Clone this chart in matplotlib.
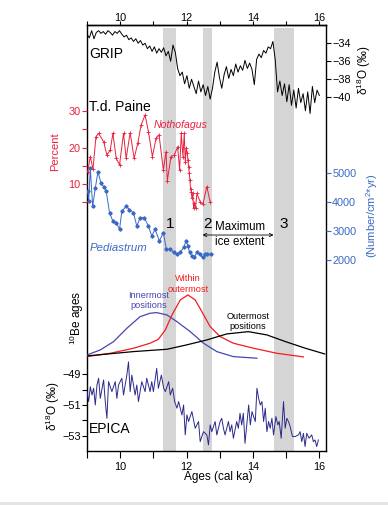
import numpy as np
import matplotlib
matplotlib.use("Agg")
import matplotlib.pyplot as plt
from matplotlib import transforms
from matplotlib.patches import Rectangle

plt.rcParams['font.family'] = 'Liberation Sans'
plt.rcParams['mathtext.fontset'] = 'custom'
plt.rcParams['mathtext.rm'] = 'Liberation Sans'
plt.rcParams['axes.unicode_minus'] = True

# ---- data ----
grip_age = [9.00, 9.07, 9.14, 9.21, 9.28, 9.35, 9.42, 9.49, 9.56, 9.63, 9.70, 9.77, 9.84, 9.91, 9.98,
            10.05, 10.12, 10.19, 10.26, 10.33, 10.40, 10.47, 10.54, 10.61, 10.68, 10.75, 10.82, 10.89,
            10.96, 11.03, 11.10, 11.17, 11.24, 11.31, 11.38, 11.45, 11.52, 11.59, 11.66,
            11.73, 11.80, 11.87, 11.94, 12.01, 12.08, 12.15, 12.22, 12.29, 12.36, 12.43, 12.50, 12.57,
            12.64, 12.71, 12.78,
            12.85, 12.92, 12.99, 13.06, 13.13, 13.20, 13.27, 13.34, 13.41, 13.48, 13.55,
            13.62, 13.69, 13.76, 13.83, 13.90, 13.97, 14.04, 14.11, 14.18, 14.25, 14.32, 14.39, 14.46,
            14.53, 14.60,
            14.67, 14.74, 14.81, 14.88, 14.95, 15.02, 15.09, 15.16, 15.23, 15.30, 15.37, 15.44, 15.51,
            15.58, 15.65, 15.72, 15.79, 15.86, 15.93, 16.00]
grip_d18o = [-33.0, -33.4, -32.6, -33.5, -32.8, -32.6, -32.9, -32.7, -33.0, -32.6, -32.8, -33.1, -32.7, -32.9, -32.6,
             -33.0, -33.3, -33.1, -33.6, -33.4, -33.8, -33.5, -34.0, -33.7, -34.2, -34.0, -34.6, -34.3,
             -34.9, -34.4, -35.1, -34.6, -35.0, -34.5, -35.4, -34.9, -36.0, -34.2, -35.0,
             -36.8, -37.6, -37.2, -38.5, -37.6, -39.0, -38.0, -38.8, -39.6, -38.2, -39.4, -38.6, -39.8,
             -38.8, -40.2, -39.0,
             -37.2, -36.1, -37.8, -39.0, -37.5, -36.6, -37.9, -36.9, -37.6, -36.3, -37.2,
             -36.5, -37.0, -35.9, -36.8, -36.2, -36.9, -38.6, -35.8, -35.2, -35.6, -34.8, -35.1, -34.4,
             -34.6, -33.8,
             -35.8, -39.4, -38.2, -39.8, -38.5, -40.5, -38.6, -40.9, -39.2, -41.2, -39.0, -40.6, -39.6,
             -41.5, -39.4, -41.8, -38.8, -40.6, -39.2, -39.8]

noth_age = [9.02, 9.10, 9.18, 9.27, 9.35, 9.50, 9.60, 9.70, 9.78, 9.88, 9.98, 10.10, 10.18, 10.30,
            10.42, 10.53, 10.63, 10.75, 10.85, 10.97, 11.08, 11.17, 11.30, 11.38, 11.42, 11.53, 11.63,
            11.73, 11.79, 11.84, 11.89, 11.93, 11.96, 11.99, 12.02, 12.04, 12.06, 12.08, 12.10, 12.12,
            12.14, 12.16, 12.19, 12.21, 12.23, 12.27, 12.31, 12.41, 12.49, 12.61, 12.71]
noth_pct = [13.3, 17.5, 14.0, 23.0, 23.9, 21.6, 17.9, 19.3, 23.9, 17.0, 15.2, 23.9, 17.0, 24.1,
            17.0, 21.2, 26.2, 29.0, 24.4, 17.5, 22.5, 23.5, 13.8, 18.8, 10.8, 17.5, 17.9,
            20.2, 13.8, 23.9, 17.5, 23.9, 16.1, 19.8, 18.4, 16.5, 14.7, 13.0, 11.0, 8.5,
            7.8, 6.0, 7.3, 3.2, 4.6, 3.4, 7.3, 5.0, 4.3, 9.2, 5.0]

ped_age = [9.02, 9.05, 9.10, 9.17, 9.25, 9.33, 9.42, 9.50, 9.58, 9.68, 9.78, 9.88, 9.98, 10.05,
           10.18, 10.28, 10.40, 10.50, 10.60, 10.73, 10.85, 10.95, 11.05, 11.18, 11.30, 11.39, 11.51,
           11.61, 11.71, 11.81, 11.91, 11.99, 12.04, 12.09, 12.16, 12.23, 12.31, 12.39, 12.48, 12.56,
           12.63, 12.73]
ped_flux = [4371, 4029, 5171, 3858, 4487, 5055, 4658, 4542, 4371, 3632, 3345, 3290, 3061, 3687,
            3858, 3745, 3632, 3173, 3461, 3461, 3173, 2831, 3061, 2660, 2948, 2376, 2376,
            2263, 2205, 2263, 2434, 2660, 2489, 2263, 2147, 2092, 2263, 2205, 2092, 2205,
            2205, 2205]

inner_age = [9.00, 9.40, 9.80, 10.20, 10.60, 10.90, 11.10, 11.41, 11.71, 12.11, 12.51, 12.91, 13.41, 14.12]
inner_p = [0.104, 0.179, 0.303, 0.502, 0.676, 0.727, 0.736, 0.701, 0.601, 0.452, 0.279, 0.154, 0.079, 0.055]
within_age = [9.00, 9.70, 10.40, 10.90, 11.15, 11.36, 11.56, 11.81, 12.04, 12.26, 12.46, 12.71, 13.01,
              13.41, 14.02, 14.72, 15.52]
within_p = [0.079, 0.129, 0.204, 0.279, 0.338, 0.478, 0.701, 0.925, 1.0, 0.925, 0.751, 0.527, 0.378,
            0.279, 0.204, 0.129, 0.075]
outer_age = [9.00, 10.40, 11.41, 12.00, 12.61, 13.21, 13.86, 14.42, 14.98, 15.58, 16.16]
outer_p = [0.090, 0.154, 0.189, 0.254, 0.328, 0.418, 0.452, 0.403, 0.303, 0.204, 0.119]

epica_age = [9.00, 9.05, 9.10, 9.15, 9.20, 9.25, 9.30, 9.35, 9.40, 9.50, 9.55, 9.60, 9.65, 9.75,
             9.85, 9.90, 9.95, 10.05, 10.10, 10.20, 10.25, 10.30, 10.35, 10.45, 10.50, 10.55, 10.65,
             10.75, 10.80, 10.90, 10.95, 11.00, 11.10, 11.15, 11.24, 11.31, 11.36, 11.46, 11.51,
             11.58, 11.64, 11.71, 11.76, 11.86, 11.91, 11.96, 12.01, 12.06, 12.16, 12.26, 12.36,
             12.41, 12.51, 12.61, 12.66, 12.71, 12.76, 12.86, 12.91, 13.01, 13.06, 13.11, 13.16,
             13.26, 13.31, 13.36, 13.41, 13.51, 13.56, 13.61, 13.66, 13.71, 13.76, 13.87, 13.92,
             13.97, 14.07, 14.12, 14.17, 14.22, 14.27, 14.32, 14.37, 14.42, 14.47, 14.52, 14.57,
             14.62, 14.69, 14.75, 14.79, 14.85, 14.92, 14.97, 15.02, 15.07, 15.12, 15.19, 15.27,
             15.37, 15.42, 15.47, 15.52, 15.57, 15.62, 15.69, 15.77, 15.82, 15.87, 15.92, 15.97]
epica_d18o = [-50.13, -50.78, -49.81, -50.35, -49.91, -51.00, -49.70, -49.26, -50.57, -49.37, -50.78,
              -51.87, -49.48, -50.13, -49.48, -50.57, -49.70, -49.26, -50.35, -49.05, -48.19, -50.13,
              -49.05, -50.35, -49.70, -50.78, -49.48, -50.13, -49.26, -50.13, -49.48, -50.13, -48.62,
              -49.91, -49.05, -49.91, -50.13, -49.48, -50.35, -49.91, -50.78, -51.21, -50.78, -51.65,
              -51.00, -52.95, -51.65, -52.08, -51.43, -52.52, -52.08, -53.39, -52.74, -52.95, -53.60,
              -52.30, -52.74, -52.08, -52.95, -52.08, -51.87, -52.52, -52.95, -52.08, -52.74, -52.30,
              -53.17, -52.08, -52.52, -51.54, -52.30, -51.54, -53.50, -51.00, -52.30, -51.43, -52.08,
              -49.91, -50.57, -51.00, -50.78, -52.08, -51.21, -52.74, -52.08, -52.52, -51.87, -52.95,
              -51.76, -52.30, -52.08, -53.17, -50.78, -52.52, -51.87, -52.08, -52.41, -53.06, -53.06,
              -52.95, -52.74, -53.39, -52.85, -53.71, -52.85, -53.17, -52.95, -53.39, -53.28, -53.71,
              -53.28]

band_start = [11.30, 12.48, 14.62]
band_end = [11.68, 12.77, 15.23]
band_labels = ['1', '2', '3']

C_NOTH = '#e8213f'
C_PED = '#3b68c4'
C_EPICA = '#2b2a8a'
C_INNER = '#4646b4'
C_WITHIN = '#f41c1c'

fig = plt.figure(figsize=(3.88, 5.05), dpi=100)
ax = fig.add_axes([87 / 388, 54 / 505, 239 / 388, 426 / 505])
ax.set_xlim(9.0, 16.2)
ax.set_ylim(0, 1)
ax.set_yticks([])
for s in ax.spines.values():
    s.set_linewidth(1.0)
ax.set_xticks([10, 12, 14, 16])
ax.set_xticks([9, 11, 13, 15], minor=True)
ax.tick_params(axis='x', which='both', direction='out', length=4.8, width=0.8,
               labelsize=7.8, pad=3.0)

# top axis: shorter ticks, labels close to the frame
top = ax.secondary_xaxis('top')
top.set_xticks([10, 12, 14, 16])
top.set_xticks([9, 11, 13, 15], minor=True)
top.tick_params(axis='x', which='both', direction='out', length=3.1, width=0.8,
                labelsize=7.8, pad=-1.5)
top.spines['top'].set_linewidth(1.0)

for a, b in zip(band_start, band_end):
    ax.axvspan(a, b, ymin=0, ymax=0.993, color='#d5d5d5', lw=0, zorder=0)


def twin(ylim, side):
    t = ax.twinx()
    t.set_ylim(*ylim)
    t.patch.set_visible(False)
    for s in t.spines.values():
        s.set_visible(False)
    if side == 'left':
        t.yaxis.tick_left()
    elif side == 'right':
        t.yaxis.tick_right()
    else:
        t.set_yticks([])
    t.tick_params(axis='y', which='both', direction='out', length=3.5, width=0.8,
                  labelsize=7.8, pad=1.0)
    return t


# GRIP
ax_grip = twin((-79.3, -31.97), 'right')
ax_grip.plot(grip_age, grip_d18o, color='black', lw=0.7)
ax_grip.set_yticks([-34, -36, -38, -40])

# Nothofagus
ax_noth = twin((-63.84, 53.84), 'left')
ax_noth.plot(noth_age, noth_pct, color=C_NOTH, lw=0.7, marker='+', ms=2.6, mew=0.6)
ax_noth.set_yticks([10, 20, 30])
ax_noth.set_yticks([5, 15, 25], minor=True)
ax_noth.tick_params(axis='y', which='both', colors=C_NOTH)

# Pediastrum
ax_ped = twin((-4609, 10131), 'right')
ax_ped.plot(ped_age, ped_flux, color=C_PED, lw=0.7, marker='D', ms=1.7)
ax_ped.set_yticks([2000, 3000, 4000, 5000])
ax_ped.tick_params(axis='y', colors=C_PED)

# 10Be
ax_be = twin((-1.33, 5.03), None)
ax_be.plot(inner_age, inner_p, color=C_INNER, lw=0.9)
ax_be.plot(within_age, within_p, color=C_WITHIN, lw=0.9)
ax_be.plot(outer_age, outer_p, color='black', lw=0.9)

# EPICA
ax_ep = twin((-54.0, -26.24), 'left')
ax_ep.plot(epica_age, epica_d18o, color=C_EPICA, lw=0.7)
ax_ep.set_yticks([-49, -51, -53])
ax_ep.set_yticks([-50, -52], minor=True)

# ---- labels ----
tr = transforms.blended_transform_factory(ax.transData, ax.transAxes)
ax.text(9.06, 0.933, 'GRIP', transform=tr, fontsize=10, va='center', ha='left')
ax.text(9.06, 0.807, 'T.d. Paine', transform=tr, fontsize=10, va='center', ha='left')
ax.text(11.02, 0.765, 'Nothofagus', transform=tr, fontsize=7.6, style='italic',
        color=C_NOTH, va='center', ha='left')
ax.text(9.09, 0.476, 'Pediastrum', transform=tr, fontsize=8.2, style='italic',
        color=C_PED, va='center', ha='left')
ax.text(9.06, 0.051, 'EPICA', transform=tr, fontsize=10, va='center', ha='left')

for a, b, lab in zip(band_start, band_end, band_labels):
    ax.text((a + b) / 2, 0.532, lab, transform=tr, fontsize=11, ha='center', va='center')

ax.text(13.61, 0.525, 'Maximum', transform=tr, fontsize=8.3, ha='center', va='center')
ax.text(13.61, 0.491, 'ice extent', transform=tr, fontsize=8.3, ha='center', va='center')
ax.annotate('', xy=(band_start[1], 0.507), xytext=(band_start[2], 0.507),
            xycoords=tr, textcoords=tr,
            arrowprops=dict(arrowstyle='<->', lw=0.6, color='black',
                            shrinkA=0, shrinkB=0, mutation_scale=6))

ax.text(12.04, 0.392, 'Within\noutermost', transform=tr, fontsize=6.6, color=C_WITHIN,
        ha='center', va='center', linespacing=1.2)
ax.text(10.87, 0.353, 'Innermost\npositions', transform=tr, fontsize=6.6, color=C_INNER,
        ha='center', va='center', linespacing=1.2)
ax.text(13.85, 0.304, 'Outermost\npositions', transform=tr, fontsize=6.6, color='black',
        ha='center', va='center', linespacing=1.2)

fig.text(218 / 388, 1 - 476.7 / 505, 'Ages (cal ka)', fontsize=8.5, ha='center', va='center')
fig.text(364 / 388, 1 - 70 / 505, r'δ$^{18}$O (‰)', fontsize=8.5, rotation=90,
         ha='center', va='center')
fig.text(53 / 388, 1 - 406.7 / 505, r'δ$^{18}$O (‰)', fontsize=8.5, rotation=90,
         ha='center', va='center')
fig.text(77 / 388, 1 - 318 / 505, r'$^{10}$Be ages', fontsize=8.5, rotation=90,
         ha='center', va='center')
fig.text(55 / 388, 1 - 151.7 / 505, 'Percent', fontsize=8, rotation=90, color=C_NOTH,
         ha='center', va='center')
fig.text(371.7 / 388, 1 - 216 / 505, r'(Number/cm$^2$*yr)', fontsize=8, rotation=90,
         color=C_PED, ha='center', va='center')

fig.patches.append(Rectangle((0, 0), 1, 3.5 / 505, transform=fig.transFigure,
                             facecolor='#e4e4e4', edgecolor='none'))

fig.savefig('out.png', dpi=100)
